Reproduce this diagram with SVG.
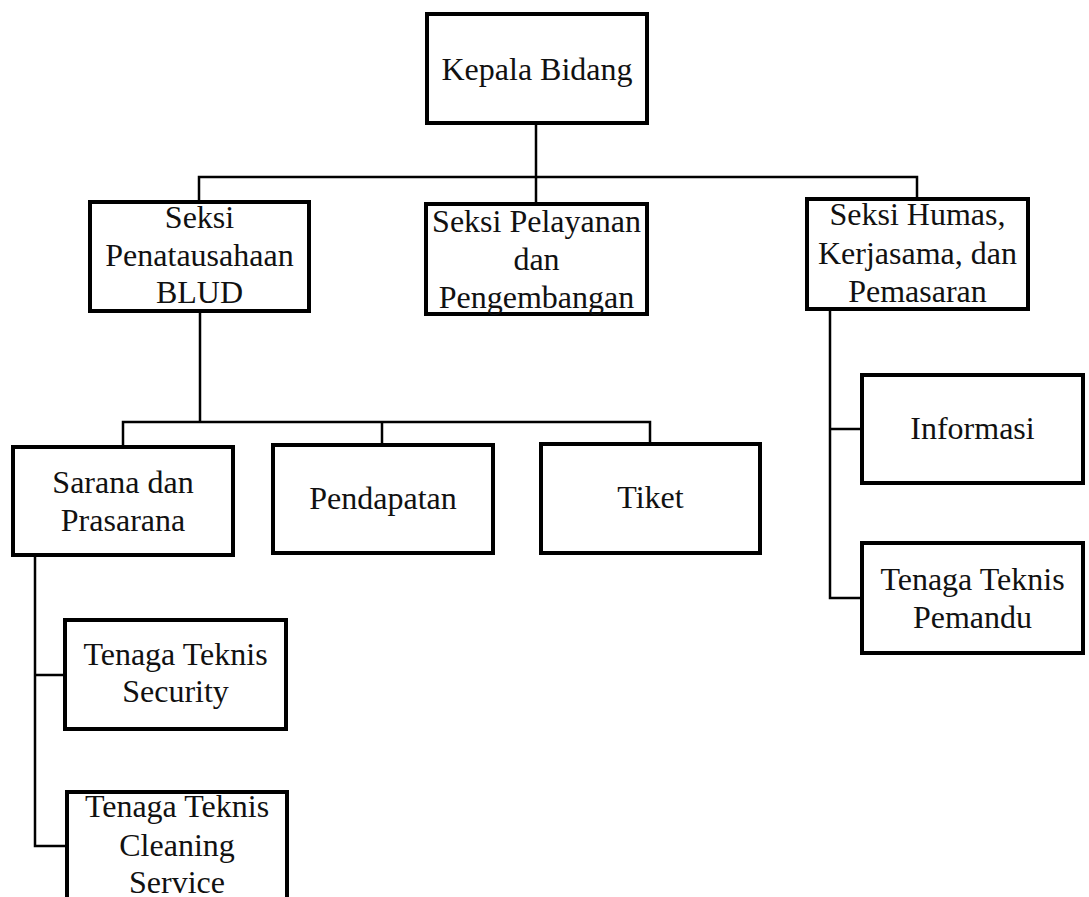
<svg xmlns="http://www.w3.org/2000/svg" width="1089" height="897" viewBox="0 0 1089 897">
<style>
.box{fill:#fff;stroke:#000;stroke-width:4}
.t{font-family:"Liberation Serif","Times New Roman",serif;font-size:32px;fill:#111;text-anchor:middle}
.c{fill:none;stroke:#000;stroke-width:2.5}
</style>
<rect width="1089" height="897" fill="#fff"/>
<g id="connectors">
<path class="c" d="M536 123V204M199 202V177H917V199"/>
<path class="c" d="M200 311V422H123V447M200 422H650V444M382 422V445"/>
<path class="c" d="M35 555V846H67M35 675H65"/>
<path class="c" d="M830 309V598H862M830 429H862"/>
</g>
<g id="kepala"><rect class="box" x="427" y="14" width="220" height="109"/><text class="t" x="537" y="80">Kepala Bidang</text></g>
<g id="penatausahaan"><rect class="box" x="90" y="202" width="219" height="109"/><text class="t" x="199.5" y="228">Seksi</text><text class="t" x="199.5" y="266">Penatausahaan</text><text class="t" x="199.5" y="303">BLUD</text></g>
<g id="pelayanan"><rect class="box" x="426" y="204" width="221" height="110"/><text class="t" x="536.5" y="232">Seksi Pelayanan</text><text class="t" x="536.5" y="270">dan</text><text class="t" x="536.5" y="308">Pengembangan</text></g>
<g id="humas"><rect class="box" x="807" y="199" width="221" height="110"/><text class="t" x="917.5" y="225">Seksi Humas,</text><text class="t" x="917.5" y="264">Kerjasama, dan</text><text class="t" x="917.5" y="302">Pemasaran</text></g>
<g id="sarana"><rect class="box" x="13" y="447" width="220" height="108"/><text class="t" x="123" y="493">Sarana dan</text><text class="t" x="123" y="531">Prasarana</text></g>
<g id="pendapatan"><rect class="box" x="273" y="445" width="220" height="108"/><text class="t" x="383" y="509">Pendapatan</text></g>
<g id="tiket"><rect class="box" x="541" y="444" width="219" height="109"/><text class="t" x="650.5" y="508">Tiket</text></g>
<g id="informasi"><rect class="box" x="862" y="375" width="221" height="108"/><text class="t" x="972.5" y="439">Informasi</text></g>
<g id="pemandu"><rect class="box" x="862" y="543" width="221" height="110"/><text class="t" x="972.5" y="590">Tenaga Teknis</text><text class="t" x="972.5" y="628">Pemandu</text></g>
<g id="security"><rect class="box" x="65" y="620" width="221" height="109"/><text class="t" x="175.5" y="665">Tenaga Teknis</text><text class="t" x="175.5" y="702">Security</text></g>
<g id="cleaning"><rect class="box" x="67" y="792" width="220" height="120"/><text class="t" x="177" y="817">Tenaga Teknis</text><text class="t" x="177" y="856">Cleaning</text><text class="t" x="177" y="893">Service</text></g>
</svg>
